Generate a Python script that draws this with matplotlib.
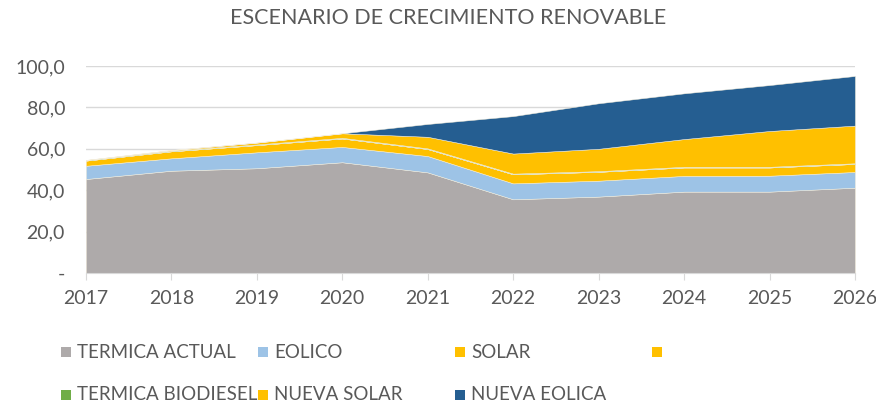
import matplotlib
matplotlib.use("Agg")
import matplotlib.pyplot as plt
from matplotlib.patches import Rectangle
from matplotlib.ticker import FuncFormatter

plt.rcParams['font.family'] = ['Lato', 'DejaVu Sans']

# Data
years = [2017, 2018, 2019, 2020, 2021, 2022, 2023, 2024, 2025, 2026]
termica_actual = [45.4, 49.4, 50.6, 53.5, 48.6, 35.6, 36.9, 39.3, 39.3, 41.2]
eolico = [6.4, 6.0, 7.7, 7.4, 7.9, 7.7, 7.7, 7.6, 7.7, 7.6]
solar = [2.5, 3.4, 3.5, 4.1, 3.4, 4.4, 4.3, 4.1, 4.0, 3.9]
sin_nombre = [0, 0, 0, 0, 0, 0, 0, 0, 0, 0]
termica_biodiesel = [0.3, 0.3, 0.3, 0.3, 0.3, 0.3, 0.3, 0.3, 0.3, 0.3]
nueva_solar = [0.0, 0.3, 0.9, 2.2, 5.6, 9.7, 10.8, 13.4, 17.3, 18.2]
nueva_eolica = [0.0, 0.0, 0.0, 0.0, 6.2, 18.1, 22.0, 22.1, 22.2, 24.0]

labels = ['TERMICA ACTUAL', 'EOLICO', 'SOLAR', '',
          'TERMICA BIODIESEL', 'NUEVA SOLAR', 'NUEVA EOLICA']
colors = ['#AEAAAA', '#9DC3E6', '#FFC000', '#FFC000',
          '#70AD47', '#FFC000', '#255E91']
series = [termica_actual, eolico, solar, sin_nombre,
          termica_biodiesel, nueva_solar, nueva_eolica]

text_col = '#595959'

fig = plt.figure(figsize=(8.76, 4.03), dpi=100)
ax = fig.add_axes([0.098, 0.3226, 0.878, 0.5136])

ax.stackplot(years, *series, colors=colors, edgecolor='#F4EEDC',
             linewidth=0.35, zorder=2)

ax.set_xlim(2017, 2026)
ax.set_ylim(0, 100)
ax.set_xticks(years)
ax.set_yticks(range(0, 101, 20))
ax.yaxis.set_major_formatter(FuncFormatter(
    lambda v, p: '-' if v == 0 else f'{v:.1f}'.replace('.', ',')))
ax.grid(axis='y', color='#D9D9D9', linewidth=1, zorder=0)
ax.set_axisbelow(True)
for s in ['top', 'right', 'left']:
    ax.spines[s].set_visible(False)
ax.spines['bottom'].set_color('#D9D9D9')
ax.tick_params(axis='y', length=0, pad=15, labelsize=14, labelcolor=text_col)
ax.tick_params(axis='x', length=5, color='#D9D9D9', pad=7, labelsize=14,
               labelcolor=text_col)

fig.text(0.511, 0.955, 'ESCENARIO DE CRECIMIENTO RENOVABLE', ha='center',
         va='center', fontsize=15.5, color=text_col)

# Legend, laid out by hand to match the uneven columns
col_x = [66, 263, 460, 657]
row_y = [352, 395]
W, H = 876, 403
for i, (lab, c) in enumerate(zip(labels, colors)):
    r, k = divmod(i, 4)
    x0, y0 = col_x[k], row_y[r]
    fig.patches.append(Rectangle(((x0 - 5) / W, 1 - (y0 + 5) / H),
                                 10 / W, 10 / H, transform=fig.transFigure,
                                 facecolor=c, edgecolor='none'))
    if lab:
        fig.text((x0 + 11) / W, 1 - y0 / H, lab, ha='left', va='center',
                 fontsize=13.5, color=text_col)

fig.savefig('out.png', dpi=100)
